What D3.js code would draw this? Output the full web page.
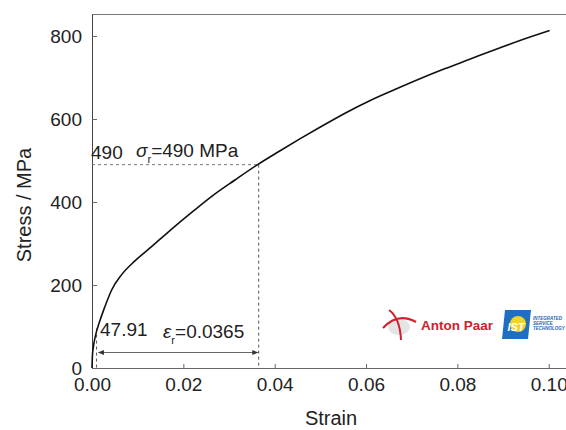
<!DOCTYPE html>
<html lang="en">
	<head>
		<meta charset="utf-8">
		<title>Stress-strain curve</title>
		<script type="text/javascript" src="https://cdn.jsdelivr.net/npm/d3@7"></script>
		<style type="text/css">
			body { margin: 0; background: #fff; }
			text { font-family: "Liberation Sans", Arial, sans-serif; fill: #222; }
		</style>
	</head>
	<body>
		<script type="text/javascript">

			//Width and height
			var w = 566;
			var h = 430;

			//curve
			var strain = [0, 0.0001, 0.0003, 0.0007, 0.0018, 0.0028, 0.0043, 0.0065, 0.0094, 0.0131,
						  0.0160, 0.0193, 0.0225, 0.0265, 0.0313, 0.0361, 0.0411, 0.0455, 0.0499, 0.0554,
						  0.0608, 0.0663, 0.0718, 0.0772, 0.0827, 0.0882, 0.0937, 0.1002];
			var stress = [0, 31, 51, 75, 116, 147, 188, 225, 258, 293,
						  321, 352, 381, 416, 453, 489, 523, 552, 580, 614,
						  644, 671, 697, 721, 744, 767, 789, 813];

			var xTicks = [0, 0.02, 0.04, 0.06, 0.08, 0.10];
			var yTicks = [0, 200, 400, 600, 800];

			//annotation values
			var sigmaR = 490;
			var epsR = 0.0365;
			var epsE = 0.001; //small dashed marker near the origin
			var epsEStress = 95;

			var x = d3.scaleLinear().domain([0, 0.104]).range([92, 567]);
			var y = d3.scaleLinear().domain([0, 853]).range([368, 14]);

			var svg = d3.select("body")
						.append("svg")
						.attr("width", w)
						.attr("height", h);

			//frame: top line, left and bottom axes
			svg.append("line")
				.attr("x1", x(0)).attr("x2", w)
				.attr("y1", y(853) + 0.5).attr("y2", y(853) + 0.5)
				.attr("stroke", "#777").attr("stroke-width", 1);

			var xAxis = d3.axisBottom(x)
				.tickValues(xTicks)
				.tickSizeInner(-4)
				.tickSizeOuter(0)
				.tickPadding(10)
				.tickFormat(d3.format(".2f"));

			var gx = svg.append("g")
				.attr("transform", "translate(0," + y(0) + ")")
				.call(xAxis);
			gx.select(".domain").attr("stroke", "#666");
			gx.selectAll(".tick line").attr("stroke", "#666");
			gx.selectAll("text")
				.attr("font-size", "19px")
				.attr("font-family", "Liberation Sans, Arial, sans-serif")
				.attr("fill", "#222");

			var yAxis = d3.axisLeft(y)
				.tickValues(yTicks)
				.tickSizeInner(-5)
				.tickSizeOuter(0)
				.tickPadding(10);

			var gy = svg.append("g")
				.attr("transform", "translate(" + x(0) + ",0)")
				.call(yAxis);
			gy.select(".domain").attr("stroke", "#444");
			gy.selectAll(".tick line").attr("stroke", "#666");
			gy.selectAll("text")
				.attr("font-size", "19px")
				.attr("font-family", "Liberation Sans, Arial, sans-serif")
				.attr("fill", "#222");

			//axis titles
			svg.append("text")
				.attr("x", 331).attr("y", 425)
				.attr("text-anchor", "middle")
				.attr("font-size", "20px")
				.text("Strain");

			svg.append("text")
				.attr("transform", "translate(31,205) rotate(-90)")
				.attr("text-anchor", "middle")
				.attr("font-size", "20px")
				.text("Stress / MPa");

			//dashed guides
			var dash = "3,3";
			svg.append("line")
				.attr("x1", x(0)).attr("x2", x(epsR))
				.attr("y1", y(sigmaR)).attr("y2", y(sigmaR))
				.attr("stroke", "#777").attr("stroke-dasharray", dash);
			svg.append("line")
				.attr("x1", x(epsR)).attr("x2", x(epsR))
				.attr("y1", y(sigmaR)).attr("y2", y(0))
				.attr("stroke", "#555").attr("stroke-dasharray", dash);
			svg.append("line")
				.attr("x1", x(epsE)).attr("x2", x(epsE))
				.attr("y1", y(epsEStress)).attr("y2", y(0))
				.attr("stroke", "#555").attr("stroke-dasharray", dash);

			//double arrow for strain range
			var defs = svg.append("defs");
			defs.append("marker")
				.attr("id", "arr")
				.attr("viewBox", "0 0 10 10")
				.attr("refX", 9).attr("refY", 5)
				.attr("markerWidth", 9).attr("markerHeight", 6)
				.attr("markerUnits", "userSpaceOnUse")
				.attr("orient", "auto-start-reverse")
				.append("path")
				.attr("d", "M0,1 L10,5 L0,9 Z")
				.attr("fill", "#333");

			var arrowY = 352.5;
			svg.append("line")
				.attr("x1", x(epsE) + 2).attr("x2", x(epsR) - 1)
				.attr("y1", arrowY).attr("y2", arrowY)
				.attr("stroke", "#666").attr("stroke-width", 1)
				.attr("marker-start", "url(#arr)")
				.attr("marker-end", "url(#arr)");

			//the curve
			var points = strain.map(function(d, i) { return [d, stress[i]]; });
			var line = d3.line()
				.x(function(d) { return x(d[0]); })
				.y(function(d) { return y(d[1]); })
				.curve(d3.curveMonotoneX);

			svg.append("path")
				.datum(points)
				.attr("d", line)
				.attr("fill", "none")
				.attr("stroke", "#111")
				.attr("stroke-width", 1.6);

			//labels
			svg.append("text")
				.attr("x", 91).attr("y", 159)
				.attr("font-size", "19px")
				.text("490");

			var sig = svg.append("text")
				.attr("x", 136).attr("y", 157)
				.attr("font-size", "19px");
			sig.append("tspan").attr("font-style", "italic").text("\u03C3");
			sig.append("tspan").attr("font-size", "11px").attr("dy", 6).text("r");
			sig.append("tspan").attr("dy", -6).text("=490 MPa");

			svg.append("text")
				.attr("x", 100).attr("y", 336)
				.attr("font-size", "19px")
				.text("47.91");

			var eps = svg.append("text")
				.attr("x", 163).attr("y", 338)
				.attr("font-size", "19px");
			eps.append("tspan").attr("font-style", "italic").text("\u03B5");
			eps.append("tspan").attr("font-size", "11px").attr("dy", 6).text("r");
			eps.append("tspan").attr("dy", -6).text("=0.0365");

			//logos (decoration)
			var logo = svg.append("g");
			logo.append("ellipse")
				.attr("cx", 399).attr("cy", 327).attr("rx", 11).attr("ry", 8)
				.attr("fill", "#ddd").attr("opacity", 0.8);
			logo.append("path")
				.attr("d", "M383,328 Q398,312 416,322")
				.attr("fill", "none").attr("stroke", "#d0202e").attr("stroke-width", 2.2);
			logo.append("path")
				.attr("d", "M389,310 Q400,318 401,340")
				.attr("fill", "none").attr("stroke", "#d0202e").attr("stroke-width", 2);
			logo.append("text")
				.attr("x", 421).attr("y", 330)
				.attr("font-size", "13.5px")
				.attr("font-weight", "bold")
				.style("fill", "#d0202e")
				.text("Anton Paar");

			logo.append("path")
				.attr("d", "M505,310 L531,310 L528,339 L502,339 Z")
				.attr("fill", "#1e6fc4");
			logo.append("circle")
				.attr("cx", 518).attr("cy", 324).attr("r", 8)
				.attr("fill", "#f2d22b");
			logo.append("text")
				.attr("x", 516).attr("y", 331)
				.attr("text-anchor", "middle")
				.attr("font-size", "11px")
				.attr("font-weight", "bold")
				.attr("font-style", "italic")
				.style("fill", "#fff")
				.text("IST");
			["INTEGRATED", "SERVICE", "TECHNOLOGY"].forEach(function(t, i) {
				logo.append("text")
					.attr("x", 533).attr("y", 320 + i * 5)
					.attr("font-size", "4.5px")
					.attr("font-weight", "bold")
					.attr("font-style", "italic")
					.style("fill", "#1e5fb0")
					.text(t);
			});

		</script>
	</body>
</html>
